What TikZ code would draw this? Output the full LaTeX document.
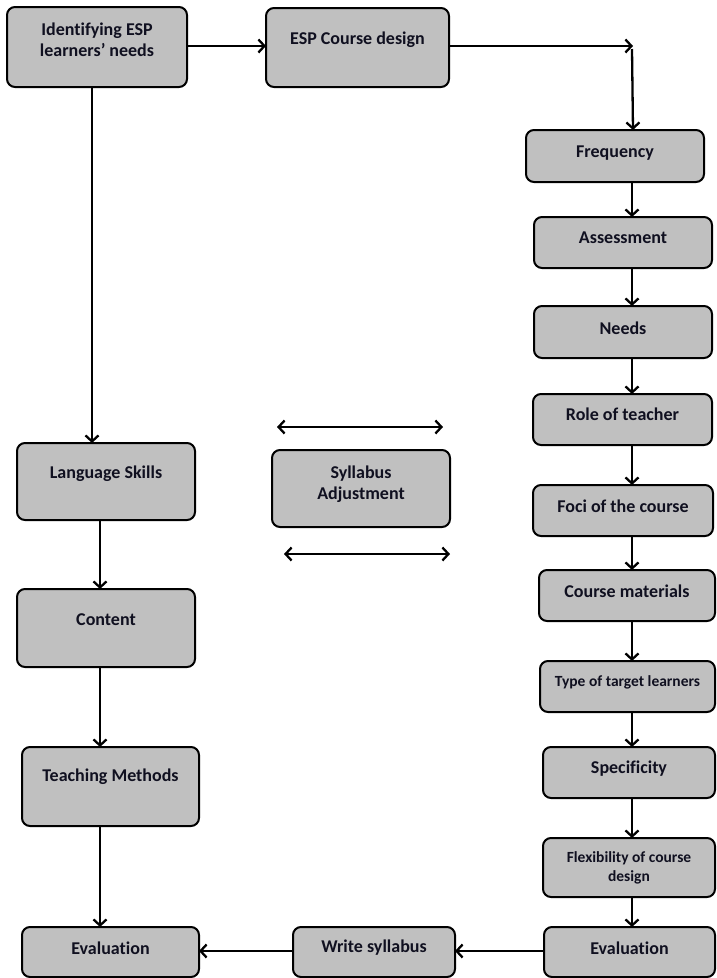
\documentclass[tikz,border=0pt]{standalone}
\usepackage{fontspec}
\setmainfont{Carlito}[Ligatures=NoCommon]
\usetikzlibrary{arrows.meta,calc}
\definecolor{boxgray}{HTML}{C0C0C0}
\definecolor{textc}{HTML}{101020}
\tikzset{
  box/.style={draw=black, line width=2pt, fill=boxgray, rounded corners=8pt, inner sep=0pt, outer sep=0pt},
  lbl/.style={font=\bfseries\fontsize{18}{21.5}\selectfont, align=center, inner sep=0pt, text=textc},
  small/.style={font=\bfseries\fontsize{15.5}{19}\selectfont},
  conn/.style={line width=2.3pt, -{Straight Barb[length=6pt,width=13pt]}},
  dconn/.style={line width=2.3pt, {Straight Barb[length=6pt,width=13pt]}-{Straight Barb[length=6pt,width=13pt]}},
}
% name, x1, y1, x2, y2, text y, text, extra label style
\newcommand\mybox[8]{%
  \node[box, minimum width={(#4-#2)*1pt}, minimum height={(#5-#3)*1pt}] (#1) at ({(#2+#4)/2},{(#3+#5)/2}) {};
  \node[lbl,#8] (#1t) at ({(#2+#4)/2},#6) {#7};
}
\begin{document}
\begin{tikzpicture}[x=1pt,y=-1pt]
\useasboundingbox (0,0) rectangle (716,978);
% left column
\mybox{idn}{7}{7}{187}{87}{39.5}{Identifying ESP\\learners’ needs}{}
\mybox{ls}{17}{443}{195}{520}{474}{Language Skills}{}
\mybox{cont}{17}{589}{195}{667}{620}{Content}{}
\mybox{tm}{22}{747}{199}{826}{777}{Teaching Methods}{}
\mybox{evl}{22}{927}{199}{977}{948}{Evaluation}{}
% middle
\mybox{cd}{266}{8}{449}{87}{40}{ESP Course design}{}
\mybox{sa}{272}{450}{450}{527}{484}{Syllabus\\Adjustment}{}
\mybox{ws}{293}{927}{455}{977}{948}{Write syllabus}{}
% right column
\mybox{freq}{526}{130}{704}{182}{153}{Frequency}{}
\mybox{assess}{534}{217}{712}{268}{238}{Assessment}{}
\mybox{needs}{534}{306}{712}{358}{328}{Needs}{}
\mybox{role}{533}{394}{712}{445}{414}{Role of teacher}{}
\mybox{foci}{533}{485}{713}{536}{506}{Foci of the course}{}
\mybox{mat}{539}{570}{715}{621}{591}{Course materials}{}
\mybox{type}{540}{661}{715}{712}{682}{Type of target learners}{small}
\mybox{spec}{543}{747}{715}{798}{769}{Specificity}{}
\mybox{flex}{543}{838}{715}{897}{868}{Flexibility of course\\design}{small}
\mybox{evr}{544}{927}{715}{977}{948}{Evaluation}{}
% helper coordinates
\coordinate (rx) at (632,0);
\coordinate (lx) at (100,0);
\coordinate (lx0) at (92,0);
\coordinate (ty) at (0,46);
\coordinate (by) at (0,951);
\coordinate (corner) at (633,46);
\coordinate (da1) at (277,427);
\coordinate (da2) at (443,427);
\coordinate (db1) at (284,554);
\coordinate (db2) at (450,554);
% connectors
\draw[conn] (idn.east |- ty) -- (cd.west |- ty);
\draw[conn] (cd.east |- ty) -- (corner);
\draw[conn] ($(corner)+(-1,3)$) -- (freq.north -| corner);
\draw[conn] (freq.south -| rx) -- (assess.north -| rx);
\draw[conn] (assess.south -| rx) -- (needs.north -| rx);
\draw[conn] (needs.south -| rx) -- (role.north -| rx);
\draw[conn] (role.south -| rx) -- (foci.north -| rx);
\draw[conn] (foci.south -| rx) -- (mat.north -| rx);
\draw[conn] (mat.south -| rx) -- (type.north -| rx);
\draw[conn] (type.south -| rx) -- (spec.north -| rx);
\draw[conn] (spec.south -| rx) -- (flex.north -| rx);
\draw[conn] (flex.south -| rx) -- (evr.north -| rx);
\draw[conn] (evr.west |- by) -- (ws.east |- by);
\draw[conn] (ws.west |- by) -- (evl.east |- by);
\draw[conn] (idn.south -| lx0) -- (ls.north -| lx0);
\draw[conn] (ls.south -| lx) -- (cont.north -| lx);
\draw[conn] (cont.south -| lx) -- (tm.north -| lx);
\draw[conn] (tm.south -| lx) -- (evl.north -| lx);
\draw[dconn] (da1) -- (da2);
\draw[dconn] (db1) -- (db2);
\end{tikzpicture}
\end{document}
